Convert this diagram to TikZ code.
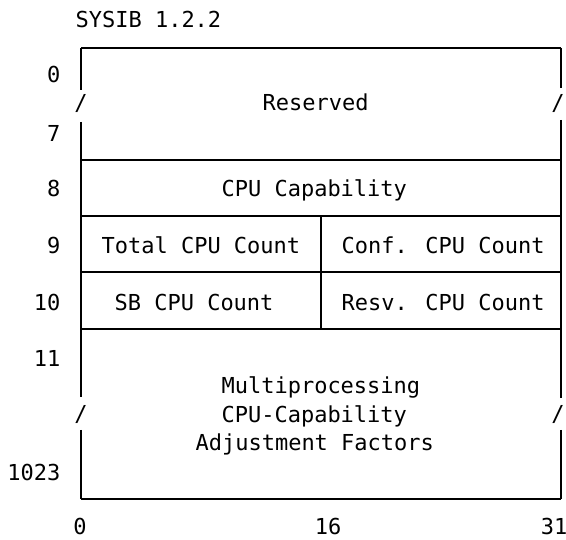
\documentclass[tikz,border=0pt]{standalone}
\usepackage{fontspec}
\newfontfamily\monofnt{DejaVu Sans Mono}
\begin{document}
\begin{tikzpicture}[x=1pt,y=-1pt,line width=1.1pt,
  lbl/.style={font=\monofnt\fontsize{22}{28}\selectfont,inner sep=0pt,anchor=base west},
  rlbl/.style={lbl,anchor=base east},
  clbl/.style={lbl,anchor=base}]
\useasboundingbox (0,0) rectangle (566,540);
% frame coordinates
\coordinate (tl) at (81,48);  \coordinate (tr) at (561,48);
\coordinate (l1) at (81,160); \coordinate (r1) at (561,160);
\coordinate (l2) at (81,216); \coordinate (r2) at (561,216);
\coordinate (l3) at (81,272); \coordinate (r3) at (561,272);
\coordinate (l4) at (81,329); \coordinate (r4) at (561,329);
\coordinate (bl) at (81,499); \coordinate (br) at (561,499);
\coordinate (m2) at (321,216); \coordinate (m4) at (321,329);
% break points
\coordinate (la1) at (81,90);  \coordinate (lb1) at (81,122);
\coordinate (la2) at (81,397); \coordinate (lb2) at (81,430);
\coordinate (ra1) at (561,88); \coordinate (rb1) at (561,120);
\coordinate (ra2) at (561,398);\coordinate (rb2) at (561,430);
% horizontal lines
\draw (tl) -- (tr);
\draw (l1) -- (r1);
\draw (l2) -- (r2);
\draw (l3) -- (r3);
\draw (l4) -- (r4);
\draw (bl) -- (br);
% vertical lines
\draw (tl) -- (la1) (lb1) -- (la2) (lb2) -- (bl);
\draw (tr) -- (ra1) (rb1) -- (ra2) (rb2) -- (br);
\draw (m2) -- (m4);
% break slashes
\node[clbl] (s1) at (81,111) {/};
\node[clbl] (s2) at (81,422) {/};
\node[clbl] (s3) at (558,111) {/};
\node[clbl] (s4) at (558,422) {/};
% title
\node[lbl] (title) at (75,28) {SYSIB 1.2.2};
% row labels
\node[rlbl] (r0) at (61,83) {0};
\node[rlbl] (r7) at (61,142) {7};
\node[rlbl] (r8) at (61,197) {8};
\node[rlbl] (r9) at (61,254) {9};
\node[rlbl] (r10) at (61,311) {10};
\node[rlbl] (r11) at (61,367) {11};
\node[rlbl] (r1023) at (61,481) {1023};
% field texts
\node[lbl] (res) at (262,111) {Reserved};
\node[lbl] (cap) at (221,197) {CPU Capability};
\node[lbl] (tot) at (101,254) {Total CPU Count};
\node[lbl] (conf) at (341,254) {Conf. CPU Count};
\node[lbl] (sb) at (114,311) {SB CPU Count};
\node[lbl] (resv) at (341,311) {Resv. CPU Count};
\node[lbl] (mp1) at (221,394) {Multiprocessing};
\node[lbl] (mp2) at (221,423) {CPU-Capability};
\node[lbl] (mp3) at (195,451) {Adjustment Factors};
% bit labels
\node[clbl] (b0) at (80,535) {0};
\node[clbl] (b16) at (328,535) {16};
\node[clbl] (b31) at (554,535) {31};
\end{tikzpicture}
\end{document}
